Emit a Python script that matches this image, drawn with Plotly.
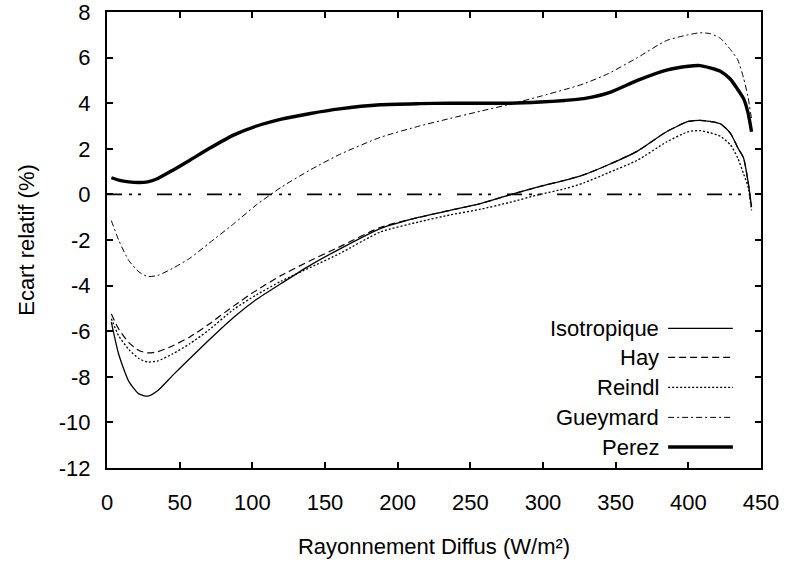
import plotly.graph_objects as go

x_vals = [3, 8, 15, 22, 28, 35, 45, 57, 70, 87, 103, 120, 140, 160, 188, 215, 236, 257,
          277, 298, 315, 328, 345, 365, 385, 400, 408, 415, 422, 429, 434, 438, 441, 443.5]

isotropique = [-5.6, -7.0, -8.2, -8.75, -8.85, -8.6, -7.95, -7.2, -6.4, -5.4, -4.6, -3.9,
               -3.1, -2.4, -1.5, -1.0, -0.7, -0.4, -0.02, 0.35, 0.62, 0.86, 1.3, 1.9,
               2.75, 3.2, 3.25, 3.2, 3.1, 2.68, 2.05, 1.6, 0.6, -0.55]

hay = [-5.25, -5.9, -6.5, -6.85, -6.95, -6.9, -6.65, -6.25, -5.7, -4.9, -4.2, -3.55,
       -2.9, -2.3, -1.45, -1.0, -0.7, -0.4, -0.02, 0.35, 0.62, 0.86, 1.3, 1.9,
       2.75, 3.2, 3.25, 3.2, 3.1, 2.68, 2.05, 1.6, 0.6, -0.55]

reindl = [-5.45, -6.2, -6.8, -7.2, -7.35, -7.3, -7.0, -6.55, -5.95, -5.05, -4.4, -3.8,
          -3.2, -2.6, -1.65, -1.2, -0.9, -0.65, -0.35, 0.0, 0.25, 0.5, 0.95, 1.5,
          2.3, 2.75, 2.8, 2.7, 2.55, 2.17, 1.6, 0.9, 0.35, -0.7]

gueymard = [-1.15, -2.0, -2.9, -3.4, -3.6, -3.55, -3.25, -2.8, -2.15, -1.3, -0.45, 0.32,
            1.08, 1.75, 2.5, 3.0, 3.33, 3.65, 3.95, 4.3, 4.6, 4.85, 5.3, 6.0,
            6.75, 7.0, 7.09, 7.05, 6.85, 6.35, 5.9, 5.1, 4.3, 3.3]

perez = [0.73, 0.63, 0.55, 0.52, 0.55, 0.7, 1.05, 1.5, 2.0, 2.6, 3.0, 3.3,
         3.55, 3.75, 3.93, 3.98, 4.0, 4.0, 4.0, 4.05, 4.12, 4.2, 4.45, 5.0,
         5.45, 5.62, 5.65, 5.55, 5.4, 5.05, 4.6, 4.2, 3.6, 2.75]

zero_x = [0, 443]
zero_y = [0, 0]

x_ticks = [0, 50, 100, 150, 200, 250, 300, 350, 400, 450]
y_ticks = [-12, -10, -8, -6, -4, -2, 0, 2, 4, 6, 8]
y_tick_text = ["-12", "-10", "-8", "-6", "-4", "-2", "0", "2", "4", "6", "8"]

names = ["Isotropique", "Hay", "Reindl", "Gueymard", "Perez"]
series = [isotropique, hay, reindl, gueymard, perez]
dashes = ["solid", "7px,4px", "2px,2px", "6px,3px,2px,3px", "solid"]
widths = [1.3, 1.2, 1.3, 1.0, 3.4]

FONT = "Liberation Sans, Arial, sans-serif"
fig = go.Figure()

fig.add_trace(go.Scatter(x=zero_x, y=zero_y, mode="lines", showlegend=False,
                         line=dict(color="black", width=1.6,
                                   dash="15px,7px,3px,6px,3px,16px")))

for name, ys, d, w in zip(names, series, dashes, widths):
    fig.add_trace(go.Scatter(x=x_vals, y=ys, mode="lines", name=name, showlegend=False,
                             line=dict(color="black", width=w, dash=d,
                                       shape="spline", smoothing=0.6)))

# gnuplot-style key: text on the left, line sample on the right
row_y = [0.306, 0.2425, 0.177, 0.111, 0.046]
for name, d, w, yy in zip(names, dashes, widths, row_y):
    fig.add_annotation(x=0.847, y=yy, xref="paper", yref="paper", text=name,
                       showarrow=False, xanchor="right", yanchor="middle",
                       font=dict(family=FONT, size=22, color="black"))
    fig.add_shape(type="line", xref="paper", yref="paper", x0=0.858, x1=0.957,
                  y0=yy, y1=yy, line=dict(color="black", width=w, dash=d))

axis_common = dict(showline=True, linecolor="black", linewidth=2, mirror="ticks",
                   ticks="inside", ticklen=6, tickwidth=1.5, tickcolor="black",
                   showgrid=False, zeroline=False, ticklabeloverflow="allow",
                   automargin=False,
                   tickfont=dict(family=FONT, size=22, color="black"))

fig.update_xaxes(range=[0, 450], tickvals=x_ticks, ticklabelstandoff=14,
                 title=dict(text="Rayonnement Diffus (W/m²)", standoff=24,
                            font=dict(family=FONT, size=22, color="black")),
                 **axis_common)
fig.update_yaxes(range=[-12, 8], tickvals=y_ticks, ticktext=y_tick_text,
                 ticklabelstandoff=10,
                 title=dict(text="Ecart relatif (%)", standoff=18,
                            font=dict(family=FONT, size=22, color="black")),
                 **axis_common)

fig.update_layout(width=787, height=562, margin=dict(l=107, r=26, t=12, b=94),
                  paper_bgcolor="white", plot_bgcolor="white", showlegend=False)

fig.write_html("out.html")
